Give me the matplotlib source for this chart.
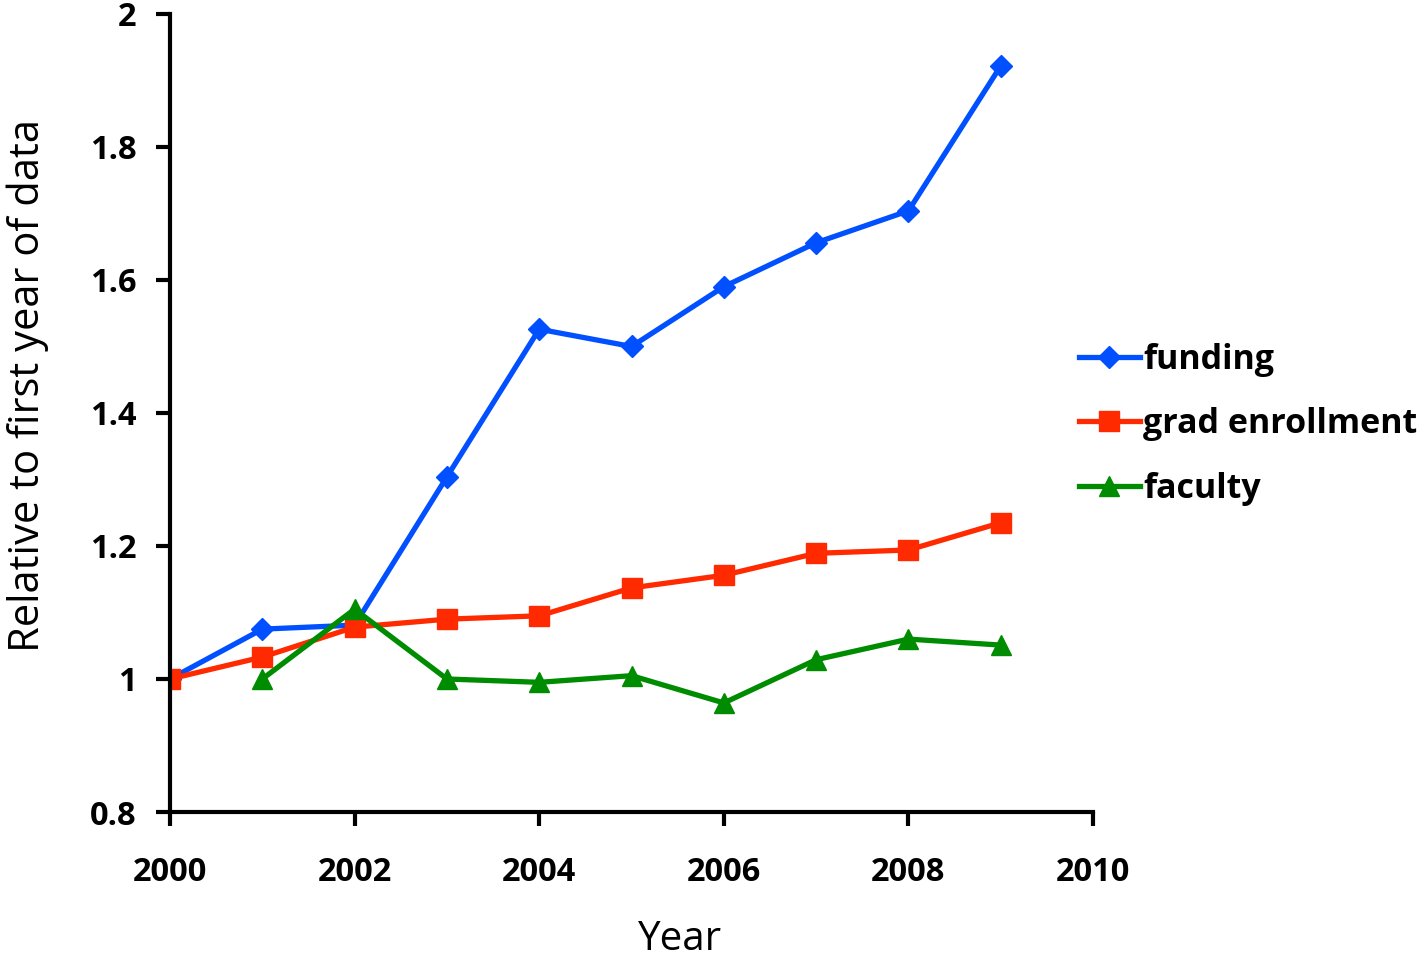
import matplotlib.pyplot as plt

plt.rcParams["font.family"] = ["Open Sans", "DejaVu Sans"]

years = [2000, 2001, 2002, 2003, 2004, 2005, 2006, 2007, 2008, 2009]
funding = [1.0, 1.075, 1.081, 1.304, 1.526, 1.50, 1.59, 1.656, 1.704, 1.922]
grad_enrollment = [1.0, 1.033, 1.078, 1.09, 1.095, 1.137, 1.156, 1.189, 1.194, 1.235]
faculty_years = [2001, 2002, 2003, 2004, 2005, 2006, 2007, 2008, 2009]
faculty = [1.0, 1.105, 1.0, 0.995, 1.005, 0.964, 1.029, 1.06, 1.051]

x_ticks = [2000, 2002, 2004, 2006, 2008, 2010]
y_ticks = [0.8, 1.0, 1.2, 1.4, 1.6, 1.8, 2.0]
y_labels = ["0.8", "1", "1.2", "1.4", "1.6", "1.8", "2"]

fig = plt.figure(figsize=(14.24, 9.58), dpi=100)
ax = fig.add_axes([0.1194, 0.1524, 0.6482, 0.833])

ax.plot(years, funding, color="#0050ff", lw=3.8, marker="D", ms=11, label="funding")
ax.plot(years, grad_enrollment, color="#ff2a00", lw=3.8, marker="s", ms=14,
        label="grad enrollment")
ax.plot(faculty_years, faculty, color="#008c00", lw=3.8, marker="^", ms=15, label="faculty")

ax.set_xlim(2000, 2010)
ax.set_ylim(0.8, 2.0)
ax.set_xticks(x_ticks)
ax.set_yticks(y_ticks)
ax.set_yticklabels(y_labels)
for side in ["top", "right"]:
    ax.spines[side].set_visible(False)
for side in ["left", "bottom"]:
    ax.spines[side].set_linewidth(3)
ax.tick_params(direction="out", width=3, length=10, labelsize=23.5)
for lbl in ax.get_xticklabels() + ax.get_yticklabels():
    lbl.set_fontweight("bold")
ax.tick_params(axis="x", pad=22)
ax.tick_params(axis="y", pad=14)

ax.set_xlabel("Year", fontsize=29)
ax.xaxis.set_label_coords(0.552, -0.135)
ax.set_ylabel("Relative to first year of data", fontsize=30)
ax.yaxis.set_label_coords(-0.131, 0.535)

fig.legend(loc="center left", bbox_to_anchor=(0.736, 0.557), frameon=False,
           prop={"size": 24.5, "weight": "bold"}, handlelength=1.8, handletextpad=0.1,
           labelspacing=0.9)

fig.savefig("out.png", dpi=100)
